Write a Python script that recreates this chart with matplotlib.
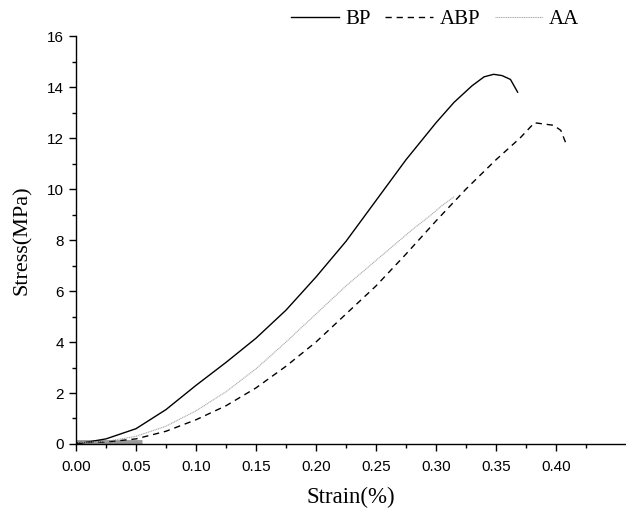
import numpy as np
import matplotlib
matplotlib.use("Agg")
import matplotlib.pyplot as plt

# Datos
bp_x = [0.0, 0.025, 0.05, 0.075, 0.10, 0.125, 0.15, 0.175, 0.20, 0.225, 0.25, 0.275, 0.30, 0.315, 0.33, 0.34, 0.348, 0.355, 0.362, 0.368]
bp_y = [0.0, 0.2, 0.6, 1.35, 2.3, 3.2, 4.15, 5.25, 6.55, 7.95, 9.55, 11.15, 12.6, 13.4, 14.05, 14.4, 14.5, 14.45, 14.3, 13.8]

abp_x = [0.0, 0.025, 0.05, 0.075, 0.10, 0.125, 0.15, 0.175, 0.20, 0.225, 0.25, 0.275, 0.30, 0.325, 0.35, 0.37, 0.382, 0.39, 0.398, 0.404, 0.409]
abp_y = [0.05, 0.08, 0.2, 0.5, 0.95, 1.5, 2.2, 3.05, 4.0, 5.1, 6.2, 7.45, 8.75, 10.0, 11.15, 12.0, 12.6, 12.55, 12.5, 12.3, 11.7]

aa_x = [0.0, 0.025, 0.05, 0.075, 0.10, 0.125, 0.15, 0.175, 0.20, 0.225, 0.25, 0.265, 0.28, 0.295, 0.305, 0.315]
aa_y = [0.05, 0.1, 0.3, 0.7, 1.3, 2.05, 2.95, 4.0, 5.1, 6.2, 7.2, 7.8, 8.4, 8.95, 9.35, 9.7]

# tramo inicial grueso de AA cerca del origen
aa_toe_x = [0.0, 0.055]
aa_toe_y = [0.06, 0.06]

fig = plt.figure(figsize=(6.26, 5.08), dpi=100)
ax = fig.add_axes([0.1214, 0.126, 0.8786, 0.803])

ax.plot(aa_toe_x, aa_toe_y, color='#999999', linewidth=3.5, solid_capstyle='butt')
ax.plot(bp_x, bp_y, color='black', linewidth=1.0, label='BP')
ax.plot(abp_x, abp_y, color='black', linewidth=1.0, linestyle=(0, (4.5, 3.5)), label='ABP')
ax.plot(aa_x, aa_y, color='#a8a8a8', linewidth=0.8, linestyle=(0, (1, 0.6)), label='AA')

ax.set_xlim(0, 0.4583)
ax.set_ylim(0, 16)
ax.set_xticks(np.arange(0, 0.41, 0.05))
ax.set_xticks(np.arange(0, 0.45, 0.025), minor=True)
ax.set_yticks(np.arange(0, 17, 2))
ax.set_yticks(np.arange(0, 17, 1), minor=True)
ax.xaxis.set_major_formatter(matplotlib.ticker.FormatStrFormatter('%.2f'))

ax.spines['top'].set_visible(False)
ax.spines['right'].set_visible(False)
ax.spines['left'].set_linewidth(1.0)
ax.spines['bottom'].set_linewidth(1.0)
ax.tick_params(which='major', direction='out', length=5, width=1.0)
ax.tick_params(axis='x', which='major', pad=6.5)
ax.tick_params(which='minor', direction='out', length=3, width=1.0)

for lab in ax.get_xticklabels() + ax.get_yticklabels():
    lab.set_family('Liberation Sans')
    lab.set_fontsize(11)

ax.set_xlabel('Strain(%)', family='Liberation Serif', fontsize=16.5, labelpad=9)
ax.set_ylabel('Stress(MPa)', family='Liberation Serif', fontsize=16, labelpad=11)

fig.legend(handles=ax.get_lines()[1:], loc='upper right', bbox_to_anchor=(0.955, 1.018),
           ncol=3, frameon=False, prop={'family': 'Liberation Serif', 'size': 15},
           handlelength=2.3, handletextpad=0.3, columnspacing=0.7)

fig.savefig('out.png', dpi=100)
